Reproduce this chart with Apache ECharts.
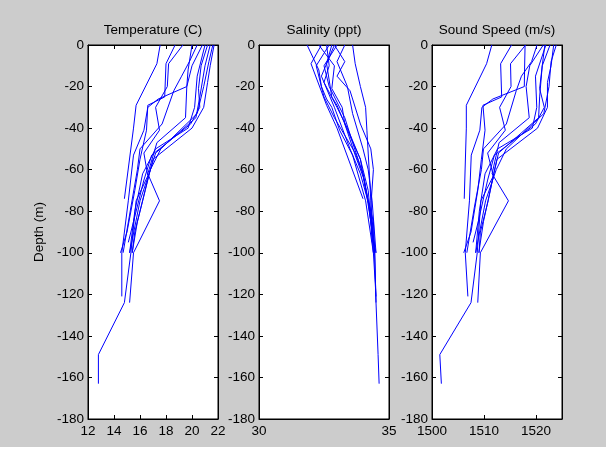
<!DOCTYPE html>
<html>
<head>
<meta charset="utf-8">
<script src="https://cdn.jsdelivr.net/npm/echarts@6/dist/echarts.min.js"></script>
<style>
html,body{margin:0;padding:0;background:#fff;}
#bg{position:absolute;left:0;top:0;width:606px;height:447px;background:#cccccc;}
#chart{position:absolute;left:0;top:0;width:613px;height:462px;}
</style>
</head>
<body>
<div id="bg"></div>
<div id="chart"></div>
<script>
// Panel titles and axis label
const panelTitles = ['Temperature (C)', 'Salinity (ppt)', 'Sound Speed (m/s)'];
const depthLabel = 'Depth (m)';
// Axis ranges [min, max, interval]
const tempAxis = [12, 22, 2];
const salAxis = [30, 35, 5];
const soundAxis = [1500, 1525, 10];
const depthAxis = [-180, 0, 20];

// Profile depths (m), one array per cast
const profileDepths = [
  [0, -9, -29, -40, -74],
  [0, -9, -25, -29, -41, -55, -70, -90, -100],
  [0, -9, -20, -30, -41, -52, -63, -75, -100, -124, -149, -163],
  [0, -12, -20, -26, -30, -41, -53, -75, -100, -121],
  [0, -10, -20, -35, -47, -62, -75, -100, -124],
  [0, -15, -30, -40, -50, -62, -80, -100],
  [0, -10, -21, -30, -38, -53, -65, -85, -95],
  [0, -10, -25, -35, -52, -62, -75, -90, -100],
  [0, -8, -20, -33, -50, -60, -75, -100],
  [0, -10, -18, -30, -40, -55, -70, -85, -100],
  [0, -8, -15, -22, -38, -50, -60, -78, -100]
];
// Temperature (C)
const temperature = [
  [17.55, 17.3, 15.7, 15.5, 14.8],
  [18.7, 18.0, 17.9, 16.6, 16.5, 16.0, 15.6, 15.0, 14.5],
  [19.3, 18.2, 18.1, 17.2, 17.5, 16.3, 16.6, 15.7, 15.3, 14.8, 12.8, 12.8],
  [20.0, 19.7, 19.6, 17.4, 16.6, 16.3, 15.5, 15.1, 14.6, 14.6],
  [20.8, 20.0, 19.6, 19.5, 17.3, 16.6, 17.5, 15.5, 15.2],
  [21.0, 20.4, 20.2, 19.7, 17.2, 16.2, 15.6, 15.2],
  [21.2, 20.7, 20.5, 20.6, 19.9, 16.9, 16.3, 15.5, 15.1],
  [21.4, 21.0, 20.6, 20.3, 17.2, 16.7, 16.2, 15.6, 15.4],
  [21.6, 21.3, 20.9, 20.4, 17.6, 16.8, 16.0, 15.2],
  [21.7, 21.4, 21.2, 20.9, 20.0, 17.0, 16.4, 15.8, 15.4],
  [20.4, 19.8, 19.2, 18.6, 17.7, 16.0, 15.8, 15.3, 14.7]
];
// Salinity (ppt)
const salinity = [
  [32.4, 32.0, 32.6, 33.0, 34.0],
  [32.8, 32.6, 32.8, 33.0, 33.4, 33.9, 34.2, 34.35, 34.4],
  [33.6, 33.7, 33.9, 34.1, 34.15, 34.2, 34.25, 34.3, 34.45, 34.5, 34.58, 34.62],
  [31.85, 32.3, 32.4, 32.6, 32.8, 33.1, 33.6, 34.1, 34.4, 34.5],
  [33.0, 32.5, 32.7, 33.3, 33.6, 34.0, 34.2, 34.45, 34.5],
  [32.9, 32.4, 32.9, 33.2, 33.5, 33.9, 34.3, 34.45],
  [32.3, 32.9, 32.8, 33.2, 33.3, 33.7, 34.05, 34.3, 34.35],
  [32.7, 32.2, 32.5, 32.9, 33.7, 34.0, 34.2, 34.35, 34.5],
  [33.3, 33.0, 33.4, 33.6, 34.0, 34.2, 34.35, 34.5],
  [32.6, 32.7, 32.5, 33.0, 33.4, 33.9, 34.1, 34.4, 34.45],
  [32.9, 33.3, 33.0, 33.5, 33.9, 34.3, 34.4, 34.3, 34.4]
];
// Sound speed (m/s)
const soundSpeed = [
  [1511.5, 1510.5, 1506.6, 1506.6, 1506.2],
  [1515.3, 1513.2, 1513.4, 1509.8, 1510.2, 1509.5, 1508.8, 1507.5, 1506.1],
  [1518.0, 1515.1, 1515.2, 1513.0, 1514.1, 1510.7, 1511.8, 1509.4, 1508.7, 1507.5, 1501.5, 1501.8],
  [1517.9, 1517.8, 1517.75, 1511.7, 1509.6, 1509.2, 1507.55, 1507.2, 1506.4, 1506.9],
  [1521.4, 1518.8, 1518.1, 1518.7, 1512.9, 1511.55, 1514.7, 1509.3, 1508.8],
  [1521.9, 1519.9, 1520.15, 1519.3, 1512.6, 1510.2, 1509.1, 1508.4],
  [1521.7, 1521.2, 1520.7, 1521.6, 1519.9, 1512.0, 1510.7, 1508.9, 1507.9],
  [1522.7, 1521.2, 1520.7, 1520.5, 1512.8, 1511.85, 1510.8, 1509.3, 1509.05],
  [1523.9, 1522.9, 1522.5, 1521.5, 1514.3, 1512.35, 1510.3, 1508.4],
  [1523.4, 1522.9, 1522.2, 1522.2, 1520.3, 1512.5, 1511.2, 1509.9, 1509.0],
  [1520.2, 1519.15, 1517.2, 1516.2, 1514.3, 1509.9, 1509.5, 1508.15, 1506.7]
];

const FONT = '"Liberation Sans", Arial, sans-serif';
const FS = 13.5;
const panelLefts = [88, 259, 432];
const panelWidth = 130;
const panelTop = 45;
const panelHeight = 374;
const axesCfg = [tempAxis, salAxis, soundAxis];
const valueSets = [temperature, salinity, soundSpeed];

const grids = [], xAxes = [], yAxes = [], series = [], titles = [];
panelLefts.forEach((left, i) => {
  grids.push({left: left, top: panelTop, width: panelWidth, height: panelHeight,
    show: true, backgroundColor: '#ffffff', borderColor: '#000', borderWidth: 1, containLabel: false});
  const ax = axesCfg[i];
  const baseX = {type: 'value', gridIndex: i, min: ax[0], max: ax[1], interval: ax[2],
    splitLine: {show: false},
    axisLine: {show: true, onZero: false, lineStyle: {color: '#000', width: 1}},
    axisTick: {show: true, inside: true, length: 4, lineStyle: {color: '#000'}}};
  xAxes.push(Object.assign({}, baseX, {position: 'bottom',
    axisLabel: {show: true, color: '#000', fontFamily: FONT, fontSize: FS, margin: 5,
      showMaxLabel: (ax[1] - ax[0]) % ax[2] === 0, formatter: v => String(v)}}));
  xAxes.push(Object.assign({}, baseX, {position: 'top', axisLabel: {show: false}}));
  const baseY = {type: 'value', gridIndex: i, min: depthAxis[0], max: depthAxis[1], interval: depthAxis[2],
    splitLine: {show: false},
    axisLine: {show: true, onZero: false, lineStyle: {color: '#000', width: 1}},
    axisTick: {show: true, inside: true, length: 4, lineStyle: {color: '#000'}}};
  const leftY = Object.assign({}, baseY, {position: 'left',
    axisLabel: {show: true, color: '#000', fontFamily: FONT, fontSize: FS, margin: 4, formatter: v => String(v)}});
  if (i === 0) {
    Object.assign(leftY, {name: depthLabel, nameLocation: 'middle', nameGap: 42, nameRotate: 90,
      nameTextStyle: {color: '#000', fontFamily: FONT, fontSize: FS}});
  }
  yAxes.push(leftY);
  yAxes.push(Object.assign({}, baseY, {position: 'right', axisLabel: {show: false}}));
  titles.push({text: panelTitles[i], left: left + panelWidth / 2, top: 23, textAlign: 'center',
    padding: 0, textStyle: {color: '#000', fontFamily: FONT, fontSize: FS, fontWeight: 'normal'}});
  valueSets[i].forEach((vals, p) => {
    series.push({type: 'line', xAxisIndex: 2 * i, yAxisIndex: 2 * i, symbol: 'none',
      lineStyle: {color: '#0000ff', width: 1}, silent: true, animation: false,
      data: vals.map((v, k) => [v, profileDepths[p][k]])});
  });
});

const chart = echarts.init(document.getElementById('chart'), null, {renderer: 'canvas'});
chart.setOption({
  backgroundColor: 'transparent',
  animation: false,
  title: titles,
  grid: grids,
  xAxis: xAxes,
  yAxis: yAxes,
  series: series
});
</script>
</body>
</html>
